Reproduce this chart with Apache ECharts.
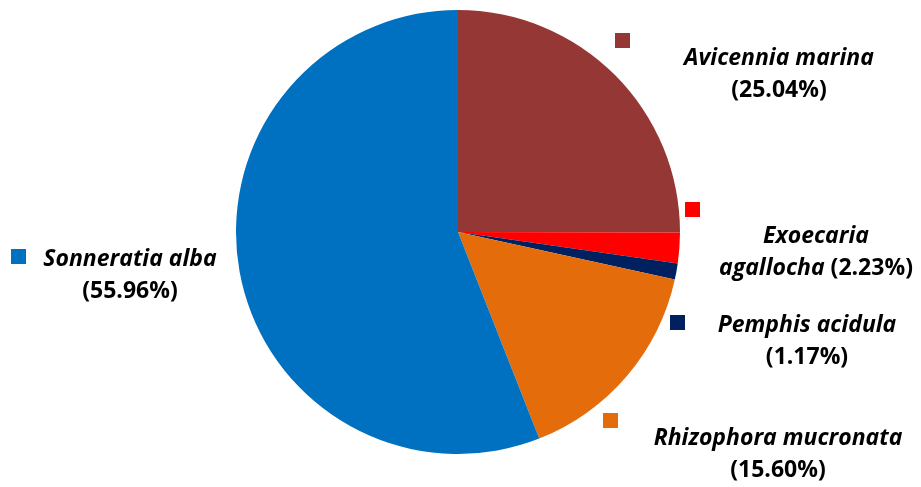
<!DOCTYPE html>
<html>
<head>
<meta charset="utf-8">
<script src="https://cdn.jsdelivr.net/npm/echarts@6/dist/echarts.min.js"></script>
<style>
  html, body { margin: 0; padding: 0; background: #fff; }
  #chart { width: 921px; height: 487px; }
</style>
</head>
<body>
<div id="chart"></div>
<script>
  const species = ['Avicennia marina', 'Exoecaria agallocha', 'Pemphis acidula', 'Rhizophora mucronata', 'Sonneratia alba'];
  const shares = [25.04, 2.23, 1.17, 15.60, 55.96];
  const colors = ['#953735', '#ff0000', '#002060', '#e46c0a', '#0070c0'];
  // Exoecaria wraps after its first word, the rest put the percentage on line 2
  const wrapName = [false, true, false, false, false];

  // where each label block and its key square sit
  const labelPos = [[779, 74], [816, 252], [807, 341], [778, 454], [130, 275]];
  const keyPos = [[615, 33], [685, 202], [670, 315], [603, 413], [11, 249]];

  const chart = echarts.init(document.getElementById('chart'));

  function labelText(params) {
    const i = params.dataIndex;
    const pct = '{p|(' + shares[i].toFixed(2) + '%)}';
    if (wrapName[i]) {
      const words = species[i].split(' ');
      return '{n|' + words[0] + '}\n{n|' + words.slice(1).join(' ') + ' }' + pct;
    }
    return '{n|' + species[i] + '}\n' + pct;
  }

  const legends = species.map((name, i) => ({
    data: [name],
    left: keyPos[i][0],
    top: keyPos[i][1],
    padding: 0,
    icon: 'rect',
    itemWidth: 15,
    itemHeight: 15,
    selectedMode: false,
    formatter: () => '',
    textStyle: {fontSize: 1}
  }));

  const option = {
    backgroundColor: '#fff',
    animation: false,
    color: colors,
    legend: legends,
    series: [{
      type: 'pie',
      center: [458, 232],
      radius: 222,
      startAngle: 90,
      clockwise: true,
      itemStyle: {borderWidth: 0},
      emphasis: {disabled: true},
      labelLine: {show: false},
      label: {
        show: true,
        formatter: labelText,
        overflow: 'none',
        fontFamily: 'Open Sans',
        color: '#000',
        align: 'center',
        lineHeight: 32,
        rich: {
          n: {fontFamily: 'Open Sans', fontSize: 23, fontWeight: 'bold', fontStyle: 'italic', color: '#000', lineHeight: 32},
          p: {fontFamily: 'Open Sans', fontSize: 23, fontWeight: 'bold', color: '#000', lineHeight: 32}
        }
      },
      labelLayout: (params) => ({
        x: labelPos[params.dataIndex][0],
        y: labelPos[params.dataIndex][1],
        align: 'center',
        verticalAlign: 'middle'
      }),
      data: species.map((name, i) => ({name: name, value: shares[i]}))
    }]
  };

  chart.setOption(option);
</script>
</body>
</html>
